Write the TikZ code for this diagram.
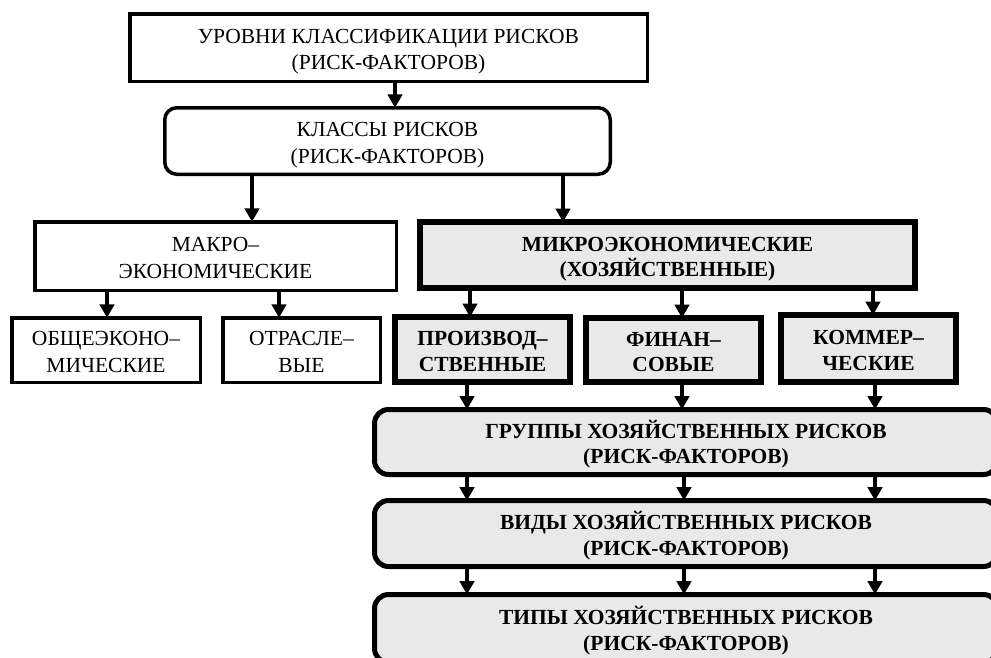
\documentclass[tikz,border=0pt]{standalone}
\usepackage{fontspec}
\setmainfont{Liberation Serif}
\usetikzlibrary{arrows.meta}
\definecolor{boxgray}{HTML}{E9E9E9}
\newcommand{\mytopstrut}{\rule{0pt}{24pt}}
\newcommand{\mybotstrut}{\rule[-6pt]{0pt}{6pt}}
\tikzset{
  base/.style={draw=black, inner sep=0pt, outer sep=0pt, align=center,
    font=\fontsize{21.5}{26.5}\selectfont},
  thinbox/.style={base, line width=3.5pt, fill=white},
  thinround/.style={base, line width=3.5pt, fill=white, rounded corners=12pt},
  thickbox/.style={base, line width=6pt, fill=boxgray, font=\fontsize{21.5}{25.5}\selectfont\bfseries},
  thickround/.style={base, line width=5pt, fill=boxgray, rounded corners=14pt, font=\fontsize{21.5}{25.5}\selectfont\bfseries},
  arr/.style={line width=3.2pt, -{Triangle[width=14.5pt,length=13.5pt]}}
}
\begin{document}
\begin{tikzpicture}[x=1pt,y=-1pt]
\useasboundingbox (0,0) rectangle (991,657);
\fill[white] (0,0) rectangle (991,657);
\clip (0,0) rectangle (991,657);

\node[thinbox, minimum width=517.5pt, minimum height=67.5pt] (top) at (388.5,47.5)
  {\mytopstrut УРОВНИ КЛАССИФИКАЦИИ РИСКОВ\\(РИСК-ФАКТОРОВ)\mybotstrut};
\node[thinround, minimum width=445.5pt, minimum height=66.5pt] (cls) at (387.5,141)
  {\mytopstrut КЛАССЫ РИСКОВ\\(РИСК-ФАКТОРОВ)\mybotstrut};
\node[thinbox, minimum width=361.5pt, minimum height=68.5pt] (macro) at (215.5,256)
  {\mytopstrut МАКРО–\\ЭКОНОМИЧЕСКИЕ\mybotstrut};
\node[thickbox, minimum width=495pt, minimum height=66pt] (micro) at (667.5,255)
  {\mytopstrut МИКРОЭКОНОМИЧЕСКИЕ\\(ХОЗЯЙСТВЕННЫЕ)\mybotstrut};
\node[thinbox, minimum width=188.5pt, minimum height=64.5pt] (obsh) at (106,350)
  {\mytopstrut ОБЩЕЭКОНО–\\МИЧЕСКИЕ\mybotstrut};
\node[thinbox, minimum width=157.5pt, minimum height=64.5pt] (otr) at (301.5,350)
  {\mytopstrut ОТРАСЛЕ–\\ВЫЕ\mybotstrut};
\node[thickbox, minimum width=175pt, minimum height=65pt] (proiz) at (482.5,349.5)
  {\mytopstrut ПРОИЗВОД–\\СТВЕННЫЕ\mybotstrut};
\node[thickbox, minimum width=175pt, minimum height=64pt] (fin) at (673.5,350)
  {\mytopstrut ФИНАН–\\СОВЫЕ\mybotstrut};
\node[thickbox, minimum width=175pt, minimum height=67pt] (kom) at (868.5,348.5)
  {\mytopstrut КОММЕР–\\ЧЕСКИЕ\mybotstrut};
\node[thickround, minimum width=623pt, minimum height=65pt] (grp) at (686,442)
  {\mytopstrut ГРУППЫ ХОЗЯЙСТВЕННЫХ РИСКОВ\\(РИСК-ФАКТОРОВ)\mybotstrut};
\node[thickround, minimum width=623pt, minimum height=66pt] (vid) at (686,533.5)
  {\mytopstrut ВИДЫ ХОЗЯЙСТВЕННЫХ РИСКОВ\\(РИСК-ФАКТОРОВ)\mybotstrut};
\node[thickround, minimum width=623pt, minimum height=68pt] (tip) at (686,628.5)
  {\mytopstrut ТИПЫ ХОЗЯЙСТВЕННЫХ РИСКОВ\\(РИСК-ФАКТОРОВ)\mybotstrut};

% arrows
\draw[arr] ([xshift=6.5pt]top.south) -- ([xshift=6.5pt]top.south |- cls.north);
\draw[arr] ([xshift=36.5pt]macro.north |- cls.south) -- ([xshift=36.5pt]macro.north);
\draw[arr] ([xshift=-104.5pt]micro.north |- cls.south) -- ([xshift=-104.5pt]micro.north);

\draw[arr] ([xshift=1pt]obsh.north |- macro.south) -- ([xshift=1pt]obsh.north);
\draw[arr] ([xshift=-22.5pt]otr.north |- macro.south) -- ([xshift=-22.5pt]otr.north);

\draw[arr] ([xshift=-12.5pt]proiz.north |- micro.south) -- ([xshift=-12.5pt]proiz.north);
\draw[arr] ([xshift=8.5pt]fin.north |- micro.south) -- ([xshift=8.5pt]fin.north);
\draw[arr] ([xshift=4.5pt]kom.north |- micro.south) -- ([xshift=4.5pt]kom.north);

\draw[arr] ([xshift=-15.5pt]proiz.south) -- ([xshift=-15.5pt]proiz.south |- grp.north);
\draw[arr] ([xshift=8.5pt]fin.south) -- ([xshift=8.5pt]fin.south |- grp.north);
\draw[arr] ([xshift=6.5pt]kom.south) -- ([xshift=6.5pt]kom.south |- grp.north);

\draw[arr] ([xshift=-219pt]grp.south) -- ([xshift=-219pt]vid.north);
\draw[arr] ([xshift=-2pt]grp.south) -- ([xshift=-2pt]vid.north);
\draw[arr] ([xshift=189pt]grp.south) -- ([xshift=189pt]vid.north);

\draw[arr] ([xshift=-219pt]vid.south) -- ([xshift=-219pt]tip.north);
\draw[arr] ([xshift=-2pt]vid.south) -- ([xshift=-2pt]tip.north);
\draw[arr] ([xshift=189pt]vid.south) -- ([xshift=189pt]tip.north);
\end{tikzpicture}
\end{document}
